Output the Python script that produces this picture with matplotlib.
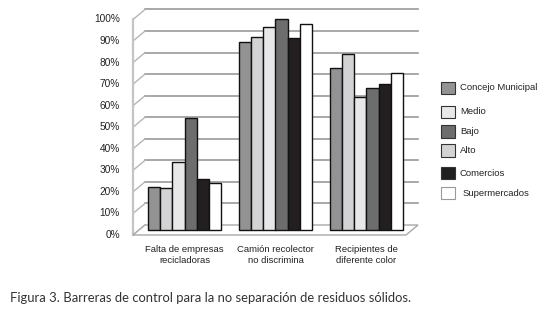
import matplotlib
matplotlib.use("Agg")
import matplotlib.pyplot as plt
import matplotlib.transforms as mtransforms
from matplotlib.patches import Polygon, Rectangle
import numpy as np

categories = ["Falta de empresas\nrecicladoras", "Camión recolector\nno discrimina", "Recipientes de\ndiferente color"]
series = ["Concejo Municipal", "Alto", "Medio", "Bajo", "Comercios", "Supermercados"]
values = {
    "Concejo Municipal": [19.8, 87.4, 75.0],
    "Alto": [19.4, 89.7, 81.5],
    "Medio": [31.4, 94.3, 61.9],
    "Bajo": [52.1, 97.8, 65.8],
    "Comercios": [23.7, 89.0, 67.6],
    "Supermercados": [21.7, 95.5, 72.9],
}
colors = {
    "Concejo Municipal": "#939393",
    "Alto": "#d3d3d5",
    "Medio": "#e8e8e8",
    "Bajo": "#6d6d6d",
    "Comercios": "#231f20",
    "Supermercados": "#ffffff",
}
legend_order = ["Concejo Municipal", "Medio", "Bajo", "Alto", "Comercios", "Supermercados"]
yticks = np.arange(0, 101, 10)

plt.rcParams['font.family'] = ['Liberation Sans', 'DejaVu Sans']
fig = plt.figure(figsize=(5.53, 3.13), dpi=100)
ax = fig.add_axes([139 / 553, 83 / 313, 273 / 553, 215.5 / 313])
ax.set_xlim(-0.5, 2.5)
ax.set_ylim(0, 100)
ax.axis("off")

# pseudo 3d offsets (back wall / front edge)
back = mtransforms.ScaledTranslation(6 / 100, 5 / 100, fig.dpi_scale_trans)
front = mtransforms.ScaledTranslation(-6 / 100, -5 / 100, fig.dpi_scale_trans)
yt = ax.get_yaxis_transform()

for v in yticks[1:]:
    ax.plot([0, 1], [v, v], color="#9a9a9a", lw=1.2, transform=yt + back, clip_on=False, zorder=1)
for v in yticks:
    # slanted tick
    p0 = (yt + front).transform((0, v))
    p1 = (yt + back).transform((0, v))
    ax.plot([p0[0], p1[0]], [p0[1], p1[1]], color="#b5b5b5", lw=1.0,
            transform=None, clip_on=False, zorder=1)
    ax.text(-13 / 273, v, f"{v}%", transform=yt + front, ha="right", va="center",
            fontsize=7.3, color="#222222")

ax.plot([0, 0], [0, 100], color="#c4c4c4", lw=1.6, transform=yt + front, clip_on=False, zorder=1)

pts = [(yt + front).transform((0, 0)), (yt + front).transform((1, 0)),
       (yt + back).transform((1, 0)), (yt + back).transform((0, 0))]
ax.add_patch(Polygon(pts, closed=True, transform=None, facecolor="white",
                     edgecolor="#a8a8a8", lw=1.0, clip_on=False, zorder=1.5))

x = np.arange(len(categories))
w = 0.135
for i, s in enumerate(series):
    ax.bar(x + (i - 2.5) * w, values[s], width=w, color=colors[s], edgecolor="#111111",
           linewidth=1.0, zorder=3, clip_on=False)

for xi, c in zip(x, categories):
    ax.text(xi, -7, c, ha="center", va="top", fontsize=6.8, color="#222222",
            linespacing=1.25, transform=ax.transData)

# legend
legend_y = [88, 111.5, 131.5, 150.5, 173, 193]
for s, yy in zip(legend_order, legend_y):
    fig.patches.append(Rectangle((441 / 553, 1 - (yy + 6) / 313), 14 / 553, 12 / 313,
                                 transform=fig.transFigure, facecolor=colors[s],
                                 edgecolor="#333333" if s != "Supermercados" else "#999999",
                                 lw=0.8))
    tx = 463 if s == "Supermercados" else 460
    fig.text(tx / 553, 1 - yy / 313, s, ha="left", va="center", fontsize=6.8, color="#222222")

fig.text(10 / 553, 1 - 298 / 313,
         "Figura 3. Barreras de control para la no separación de residuos sólidos.",
         ha="left", va="center", fontsize=9.4, family=["Lato", "DejaVu Sans"], color="#333333")

fig.savefig("out.png", dpi=100)
